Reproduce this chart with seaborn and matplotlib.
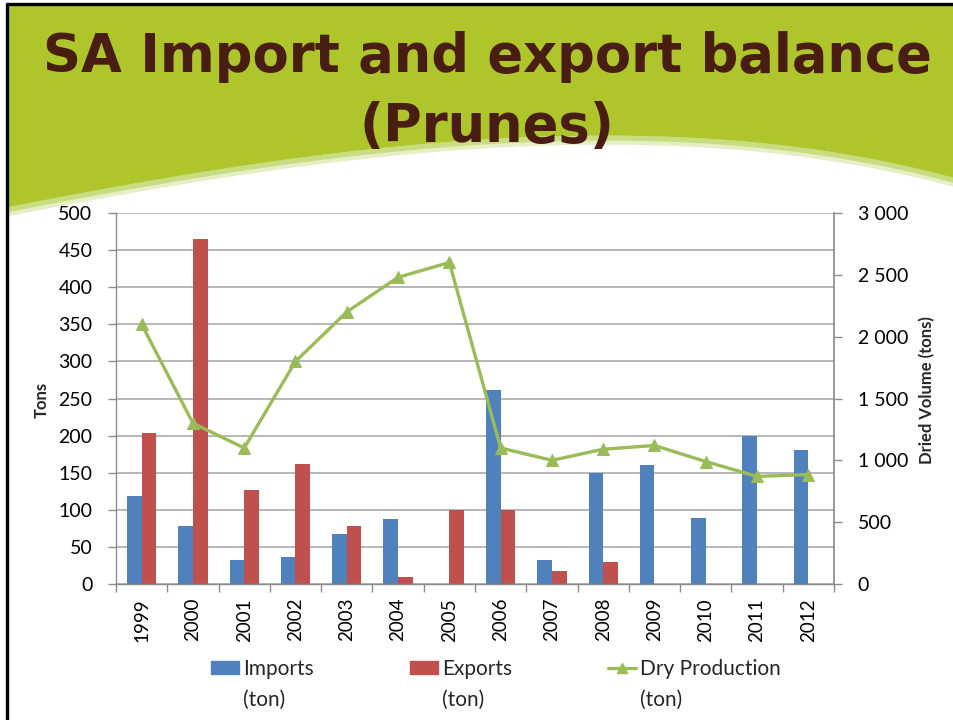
import numpy as np
import pandas as pd
import matplotlib
matplotlib.use('Agg')
import matplotlib.pyplot as plt
import seaborn as sns
from matplotlib.patches import Patch, Polygon
from matplotlib.lines import Line2D
from matplotlib.ticker import FuncFormatter

years = ['1999', '2000', '2001', '2002', '2003', '2004', '2005',
         '2006', '2007', '2008', '2009', '2010', '2011', '2012']
imports = [118, 78, 33, 37, 67, 87, 0, 261, 33, 150, 160, 89, 200, 180]
exports = [204, 465, 127, 162, 78, 9, 100, 100, 17, 30, 0, 0, 0, 0]
dry_production = [2100, 1300, 1100, 1800, 2200, 2480, 2600,
                  1100, 1000, 1090, 1120, 990, 870, 885]
legend_names = ['Imports', 'Exports', 'Dry Production']
unit = '(ton)'

blue, red, green = '#4F81BD', '#C0504D', '#9BBB59'
brown = '#4A1D12'
W, H = 954, 720

sns.set_theme(style='white')
plt.rcParams['font.family'] = ['Lato', 'DejaVu Sans']

df = pd.DataFrame({
    'year': years * 2,
    'kind': ['Imports'] * len(years) + ['Exports'] * len(years),
    'tons': imports + exports,
})

fig = plt.figure(figsize=(W / 100, H / 100), dpi=100)

# slide background: green banner with wave and black frame
bg = fig.add_axes([0, 0, 1, 1], zorder=0)
bg.set_xlim(0, W)
bg.set_ylim(H, 0)
bg.axis('off')
t = np.linspace(0, 1, 300)[:, None]
P = np.array([[9, 207], [300, 150], [650, 95], [954, 178]])
curve = ((1 - t) ** 3 * P[0] + 3 * (1 - t) ** 2 * t * P[1]
         + 3 * (1 - t) * t ** 2 * P[2] + t ** 3 * P[3])
band2 = np.vstack([curve, (curve + [0, 9])[::-1]])
band1 = np.vstack([curve, (curve + [0, 5])[::-1]])
bg.add_patch(Polygon(band2, closed=True, color='#E6EEC6', lw=0))
bg.add_patch(Polygon(band1, closed=True, color='#CADC82', lw=0))
top = np.vstack([[[9, 5], [954, 5]], curve[::-1]])
bg.add_patch(Polygon(top, closed=True, color='#AEC62B', lw=0))
bg.plot([7, 7], [3, 720], color='black', lw=2.4, solid_capstyle='butt')
bg.plot([6, 954], [4, 4], color='black', lw=2.4, solid_capstyle='butt')

tkw = dict(ha='center', va='baseline', color=brown, weight='bold',
           family='DejaVu Sans', fontsize=38)
bg.text(487, 72, 'SA Import and export balance', **tkw)
bg.text(487, 142, '(Prunes)', **tkw)

# chart
ax = fig.add_axes([116 / W, 1 - 584 / H, 718 / W, 371 / H], zorder=2)
ax.patch.set_alpha(0)
sns.barplot(data=df, x='year', y='tons', hue='kind', palette=[blue, red],
            width=0.57, saturation=1, linewidth=0, legend=False, ax=ax)
ax.set_ylim(0, 500)
ax.set_yticks(np.arange(0, 501, 50))
ax.set_xlim(-0.5, len(years) - 0.5)
ax.set_xlabel('')
ax.set_ylabel('')
ax.grid(axis='y', color='#A3A3A3', lw=1.1)
ax.set_axisbelow(True)
for s in ['top', 'right']:
    ax.spines[s].set_visible(False)
for s in ['left', 'bottom']:
    ax.spines[s].set_color('#8C8C8C')
    ax.spines[s].set_linewidth(1.0)
ax.set_xticks(np.arange(-0.5, len(years), 1), minor=True)
ax.tick_params(axis='x', which='major', length=0, pad=10, labelsize=13.5,
               labelrotation=90, labelcolor='black')
ax.tick_params(axis='x', which='minor', length=6, width=1, color='#8C8C8C',
               direction='out', bottom=True)
ax.tick_params(axis='y', length=6, width=1, color='#8C8C8C', direction='out',
               left=True, pad=11, labelsize=14, labelcolor='black')

ax2 = ax.twinx()
sns.lineplot(x=np.arange(len(years)), y=dry_production, ax=ax2, color=green,
             lw=2.4, marker='^', markersize=9, markeredgecolor=green)
ax2.set_ylim(0, 3000)
ax2.set_yticks(np.arange(0, 3001, 500))
ax2.yaxis.set_major_formatter(FuncFormatter(lambda v, p: f'{v:,.0f}'.replace(',', ' ')))
ax2.set_xlim(-0.5, len(years) - 0.5)
ax2.set_ylabel('')
for s in ['top', 'left', 'bottom']:
    ax2.spines[s].set_visible(False)
ax2.spines['right'].set_color('#8C8C8C')
ax2.tick_params(axis='y', length=6, width=1, color='#8C8C8C', direction='out',
                right=True, pad=11, labelsize=14, labelcolor='black')

fig.text(42 / W, 1 - 400 / H, 'Tons', rotation=90, ha='center',
         va='center', fontsize=12, weight='bold')
fig.text(927 / W, 1 - 390 / H, 'Dried Volume (tons)', rotation=90,
         ha='center', va='center', fontsize=12, weight='bold')

handles = [Patch(color=blue), Patch(color=red),
           Line2D([], [], color=green, lw=2.4, marker='^', markersize=7)]
leg = fig.legend(handles, legend_names, loc='center',
                 bbox_to_anchor=(496 / W, 1 - 669 / H), ncol=3, frameon=False,
                 fontsize=15, handlelength=1.35, handleheight=0.55,
                 handletextpad=0.2, columnspacing=4.6)

# second line of each legend label, set under the first
fig.canvas.draw()
for txt in leg.get_texts():
    bb = txt.get_window_extent()
    fig.text(bb.x0 / W, ((bb.y0 + bb.y1) / 2 - 31) / H, unit,
             ha='left', va='center', fontsize=15)

fig.savefig('out.png', dpi=100)
